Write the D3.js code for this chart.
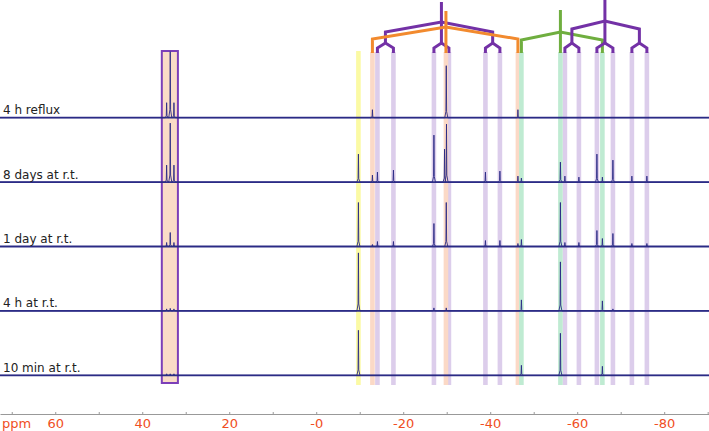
<!DOCTYPE html>
<meta charset="utf-8">
<style>
body { margin: 0; background: #fff; }
.label { font: 12px "DejaVu Sans", sans-serif; fill: #222; }
.axis path { stroke: #999; }
.axis line { stroke: #999; }
.axis text { font: 13px "DejaVu Sans", sans-serif; fill: #f04e23; }
</style>
<body>
<script src="https://cdn.jsdelivr.net/npm/d3@7"></script>
<script>
// spectra, top to bottom
var spectra = ["4 h reflux", "8 days at r.t.", "1 day at r.t.", "4 h at r.t.", "10 min at r.t."];

// peaks: [ppm, intensity]
var peaksReflux = [[34.39,15],[33.56,66],[32.71,15],[-12.92,8],[-29.9,52],[-46.37,8]];
var peaks8days = [[34.39,17],[33.56,59],[32.71,17],[-9.70,28],[-12.92,7],[-14.07,10],[-17.75,12],
  [-27.06,47],[-29.5,33],[-29.95,58],[-38.90,10],[-42.23,11],[-46.37,6],[-47.17,4],[-56.14,20],
  [-57.17,6],[-60.39,5],[-64.53,28],[-65.79,5],[-68.21,22],[-72.57,6],[-76.02,6]];
var peaks1day = [[34.39,4],[33.56,14],[32.71,4],[-9.70,44],[-12.92,2],[-14.07,5],[-17.75,5],
  [-27.06,23],[-29.9,44],[-38.90,6],[-42.23,6],[-46.37,3],[-47.17,7],[-56.14,44],[-57.17,4],
  [-60.39,4],[-64.53,16],[-65.79,8],[-68.21,13],[-72.57,3],[-76.02,3]];
var peaks4h = [[34.39,2],[33.56,2.5],[32.71,2],[-9.70,58],[-27.06,3],[-29.9,3],[-47.17,11],
  [-56.14,49],[-65.79,10],[-68.21,2]];
var peaks10min = [[34.39,1.5],[33.56,1.5],[32.71,1.5],[-9.70,45],[-47.17,10],[-56.14,42],[-65.79,9]];
var allPeaks = [peaksReflux, peaks8days, peaks1day, peaks4h, peaks10min];

// assignment stripes (ppm)
var yellowLines = [-9.70];
var orangeLines = [-12.92, -29.82, -46.37];
var greenLines = [-47.17, -56.14, -65.79];
var purpleLines = [-14.07, -17.75, -27.06, -30.51, -38.90, -42.23,
                   -57.17, -60.39, -64.53, -68.21, -72.57, -76.02];
// boxed multiplet (ppm range)
var boxRange = [35.5, 31.8];

// axis
var tickValues = d3.range(70, -91, -10);
var tickLabels = {60: "60", 40: "40", 20: "20", 0: "-0", "-20": "-20", "-40": "-40", "-60": "-60", "-80": "-80"};

var width = 709, height = 431;

var x = d3.scaleLinear().domain([72.7, -90.3]).range([0, width]);
var base = d3.scalePoint().domain(spectra).range([117.7, 375.3]);
var amp = d3.scaleLinear().domain([0, 100]).range([0, 100]);

var svg = d3.select("body").append("svg")
    .attr("width", width)
    .attr("height", height);

// box behind spectra
svg.append("rect")
    .attr("x", x(boxRange[0]))
    .attr("y", 51)
    .attr("width", x(boxRange[1]) - x(boxRange[0]))
    .attr("height", 332)
    .attr("fill", "#fadcc7")
    .attr("stroke", "#7c3fb8")
    .attr("stroke-width", 2);

// stripes
function stripes(lines, color, top) {
  svg.append("g").selectAll("rect")
      .data(lines)
    .enter().append("rect")
      .attr("x", function(d) { return x(d) - 2.3; })
      .attr("y", top)
      .attr("width", 4.6)
      .attr("height", 385 - top)
      .attr("fill", color);
}
stripes(purpleLines, "#dccdeb", 52);
stripes(orangeLines, "#fbd9c6", 52);
stripes(greenLines, "#bfebd2", 52);
stripes(yellowLines, "#fbfaa4", 51);

// splitting trees
var tree = svg.append("g").attr("fill", "none").attr("stroke-width", 3)
    .attr("stroke-linejoin", "miter");

function purpleTree(leaves, top, split, branchY) {
  var forks = [];
  for (var i = 0; i < leaves.length; i += 2) forks.push([leaves[i], leaves[i + 1]]);
  var cx = forks.map(function(f) { return (x(f[0]) + x(f[1])) / 2; });
  var root = cx[1];
  var g = tree.append("g").attr("stroke", "#7331a6");
  g.append("path").attr("d", "M" + root + "," + top + "V43");
  g.append("path").attr("d", "M" + cx[0] + ",43V" + branchY + "L" + root + "," + split +
      "L" + cx[2] + "," + branchY + "V43");
  forks.forEach(function(f, i) {
    g.append("path").attr("d", "M" + x(f[0]) + ",53V48L" + cx[i] + ",43L" + x(f[1]) + ",48V53");
  });
}

function tripletTree(leaves, color, top, split, branchY) {
  var g = tree.append("g").attr("stroke", color);
  var r = x(leaves[1]);
  g.append("path").attr("d", "M" + r + "," + top + "V53");
  g.append("path").attr("d", "M" + x(leaves[0]) + ",53V" + branchY + "L" + r + "," + split +
      "L" + x(leaves[2]) + "," + branchY + "V53");
}

purpleTree(purpleLines.slice(0, 6), 2, 22, 32);
tripletTree(orangeLines, "#f28a2e", 11, 27, 39);
tripletTree(greenLines, "#6fae3f", 10, 32, 40);
purpleTree(purpleLines.slice(6), 0, 21, 29);

// spectra
var line = d3.line();
spectra.forEach(function(name, i) {
  var y0 = base(name);
  var pk = allPeaks[i].slice().sort(function(a, b) { return b[0] - a[0]; });
  var pts = [[0, y0]];
  pk.forEach(function(p) {
    pts.push([x(p[0] + 0.35), y0]);
    pts.push([x(p[0] + 0.08), y0 - amp(p[1]) * 0.12]);
    pts.push([x(p[0]), y0 - amp(p[1])]);
    pts.push([x(p[0] - 0.08), y0 - amp(p[1]) * 0.12]);
    pts.push([x(p[0] - 0.35), y0]);
  });
  pts.push([width, y0]);
  svg.append("line")
      .attr("x1", 0).attr("x2", width)
      .attr("y1", y0).attr("y2", y0)
      .attr("stroke", "#2e2e88")
      .attr("stroke-width", 1.8);
  svg.append("path")
      .attr("d", line(pts))
      .attr("fill", "none")
      .attr("stroke", "#2a2a84")
      .attr("stroke-width", 0.9);
  svg.append("text")
      .attr("class", "label")
      .attr("x", 3)
      .attr("y", y0 - 3.5)
      .text(name);
});

// axis
var axis = svg.append("g")
    .attr("class", "axis")
    .attr("transform", "translate(0,414)")
    .call(d3.axisBottom(x)
      .tickValues(tickValues)
      .tickSizeInner(-2)
      .tickSizeOuter(0)
      .tickPadding(5)
      .tickFormat(function(d) { return tickLabels[d] || ""; }));
axis.select(".domain").attr("stroke", "#999");
axis.append("text")
    .attr("x", 2)
    .attr("y", 5)
    .attr("dy", "0.71em")
    .attr("text-anchor", "start")
    .text("ppm");
</script>
